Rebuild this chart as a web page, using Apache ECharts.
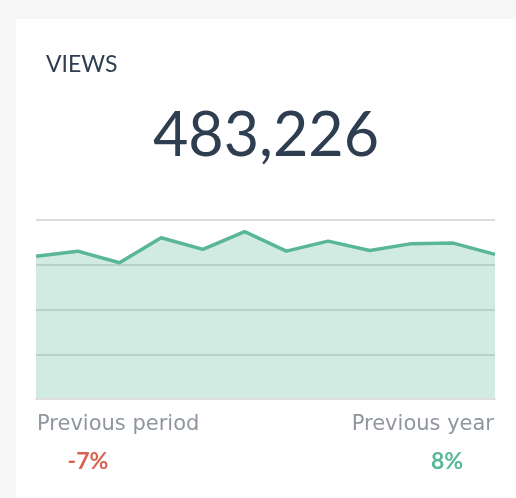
<!DOCTYPE html>
<html>
    <head>
        <meta charset="utf-8">
        <title>Views</title>
        <script src="https://cdn.jsdelivr.net/npm/echarts@6/dist/echarts.min.js"></script>
        <style>
            html, body { margin: 0; padding: 0; background: #f7f7f7; }
        </style>
    </head>
    <body>

        <div id="main" style="width: 516px;height: 498px;"></div>

        <script type="text/javascript">

            // 数据
            var months = ['Jan', 'Feb', 'Mar', 'Apr', 'May', 'Jun', 'Jul', 'Aug', 'Sep', 'Oct', 'Nov', 'Dec'];
            var views = [38300, 39650, 36530, 43250, 40130, 44880, 39650, 42340, 39840, 41660, 41810, 38780];
            var totalText = '483,226';
            var prevPeriod = '-7%';
            var prevYear = '8%';

            var myChart = echarts.init(document.getElementById('main'));

            var option = {
                backgroundColor: '#f7f7f7',
                animation: false,
                grid: {
                    left: 36,
                    right: 21,
                    top: 220,
                    bottom: 99
                },
                xAxis: {
                    type: 'category',
                    data: months,
                    boundaryGap: false,
                    axisLine: { show: true, lineStyle: { color: '#dedede', width: 2 } },
                    axisTick: { show: false },
                    axisLabel: { show: false },
                    z: 5
                },
                yAxis: {
                    type: 'value',
                    min: 0,
                    max: 48000,
                    interval: 12000,
                    axisLine: { show: false },
                    axisTick: { show: false },
                    axisLabel: { show: false },
                    splitLine: { lineStyle: { color: '#dcdcdc', width: 2 } }
                },
                series: [
                    {
                        name: 'Views',
                        type: 'line',
                        data: views,
                        symbol: 'none',
                        lineStyle: { color: '#5ab699', width: 3.5 },
                        areaStyle: { color: 'rgba(90,182,153,0.28)', opacity: 1 }
                    }
                ],
                graphic: [
                    // 白色卡片
                    {
                        type: 'rect',
                        z: -10,
                        shape: { x: 16, y: 19, width: 520, height: 500 },
                        style: { fill: '#ffffff' }
                    },
                    {
                        type: 'text',
                        style: {
                            x: 46, y: 65, text: 'VIEWS',
                            fill: '#2e3d4f',
                            font: '23px Lato',
                            textAlign: 'left', textVerticalAlign: 'middle'
                        }
                    },
                    {
                        type: 'text',
                        style: {
                            x: 266, y: 136, text: totalText,
                            fill: '#2e3d4f',
                            font: '61px Lato',
                            textAlign: 'center', textVerticalAlign: 'middle'
                        }
                    },
                    {
                        type: 'text',
                        style: {
                            x: 37, y: 425, text: 'Previous period',
                            fill: '#90969e',
                            font: '21px "DejaVu Sans"',
                            textAlign: 'left', textVerticalAlign: 'middle'
                        }
                    },
                    {
                        type: 'text',
                        style: {
                            x: 494, y: 425, text: 'Previous year',
                            fill: '#90969e',
                            font: '21px "DejaVu Sans"',
                            textAlign: 'right', textVerticalAlign: 'middle'
                        }
                    },
                    {
                        type: 'text',
                        style: {
                            x: 88, y: 462, text: prevPeriod,
                            fill: '#d9634e',
                            font: 'bold 23px Lato',
                            textAlign: 'center', textVerticalAlign: 'middle'
                        }
                    },
                    {
                        type: 'text',
                        style: {
                            x: 447, y: 462, text: prevYear,
                            fill: '#5ab699',
                            font: 'bold 23px Lato',
                            textAlign: 'center', textVerticalAlign: 'middle'
                        }
                    }
                ]
            };

            myChart.setOption(option);

        </script>
    </body>
</html>
